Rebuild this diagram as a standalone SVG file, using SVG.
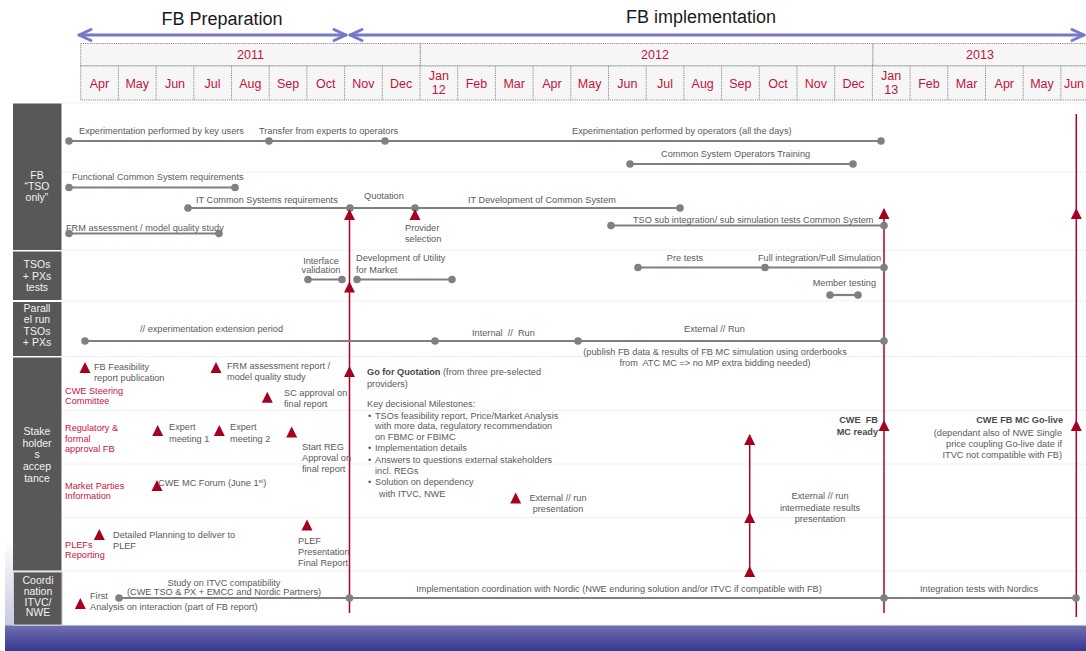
<svg xmlns="http://www.w3.org/2000/svg" xmlns:xlink="http://www.w3.org/1999/xlink" width="1086" height="651" viewBox="0 0 1086 651">
<style>
text{font-family:"Liberation Sans",Arial,sans-serif;}
.t{font-size:9.2px;fill:#5a5a5a;}
.c{font-size:9.2px;fill:#c8143e;}
.b{font-weight:bold;fill:#4a4a4a;}
.m{text-anchor:middle;}
.e{text-anchor:end;}
.pre{white-space:pre;}
.sec{font-size:10.5px;fill:#f2f2f2;text-anchor:middle;}
.mon{font-size:12.5px;fill:#c0143c;text-anchor:middle;}
.ttl{font-size:18px;fill:#1a1a1a;text-anchor:middle;}
.hc{fill:#f6f6f6;stroke:#8a8a8a;stroke-width:1;stroke-dasharray:1.2,1;}
.hl{stroke:#8a8a8a;stroke-width:1;stroke-dasharray:1.2,1;}
.sep{stroke:#e6e6e6;stroke-width:1;stroke-dasharray:1.5,1;}
.box{fill:#585858;}
.tl{stroke:#808080;stroke-width:2.2;fill:none;}
.dot{fill:#808080;}
.tri{fill:#a50022;}
.rl{stroke:#b0002a;stroke-width:1.5;fill:none;}
.ar{stroke:#7777cc;stroke-width:3;fill:none;stroke-linecap:round;stroke-linejoin:round;}
</style>
<defs>
<path id="tri" d="M0,0 L5.5,11 L-5.5,11 Z"/>
<circle id="dot" r="3.8"/>
<linearGradient id="band" x1="0" y1="0" x2="0" y2="1">
<stop offset="0" stop-color="#7070b0"/>
<stop offset="1" stop-color="#363690"/>
</linearGradient>
<linearGradient id="edge" x1="0" y1="0" x2="0" y2="1">
<stop offset="0" stop-color="#ffffff"/>
<stop offset="1" stop-color="#c8c8e2"/>
</linearGradient>
</defs>
<rect x="0" y="0" width="1086" height="651" fill="#ffffff"/>

<!-- titles and phase arrows -->
<g id="phase-prep">
<text class="ttl" x="222" y="25">FB Preparation</text>
<line class="ar" x1="79" y1="35" x2="346" y2="35"/>
<polyline class="ar" points="91,29.5 79,35 91,40.5"/>
<polyline class="ar" points="334,29.5 346,35 334,40.5"/>
</g>
<g id="phase-impl">
<text class="ttl" x="701" y="23">FB implementation</text>
<line class="ar" x1="350" y1="35" x2="1084" y2="35"/>
<polyline class="ar" points="362,29.5 350,35 362,40.5"/>
<polyline class="ar" points="1072,29.5 1084,35 1072,40.5"/>
</g>

<!-- header calendar -->
<g id="calendar">
<rect class="hc" x="80.7" y="43.5" width="339.6" height="22.5"/>
<rect class="hc" x="420.3" y="43.5" width="452.7" height="22.5"/>
<rect class="hc" x="873" y="43.5" width="214" height="22.5"/>
<rect class="hc" x="80.7" y="66" width="1006" height="34"/>
<text class="mon" x="250.5" y="59">2011</text>
<text class="mon" x="655" y="59">2012</text>
<text class="mon" x="980" y="59">2013</text>
<g class="hl">
<line x1="118.4" y1="66" x2="118.4" y2="100"/><line x1="156.1" y1="66" x2="156.1" y2="100"/>
<line x1="193.8" y1="66" x2="193.8" y2="100"/><line x1="231.5" y1="66" x2="231.5" y2="100"/>
<line x1="269.2" y1="66" x2="269.2" y2="100"/><line x1="306.9" y1="66" x2="306.9" y2="100"/>
<line x1="344.6" y1="66" x2="344.6" y2="100"/><line x1="382.3" y1="66" x2="382.3" y2="100"/>
<line x1="420" y1="66" x2="420" y2="100"/><line x1="457.7" y1="66" x2="457.7" y2="100"/>
<line x1="495.4" y1="66" x2="495.4" y2="100"/><line x1="533.1" y1="66" x2="533.1" y2="100"/>
<line x1="570.8" y1="66" x2="570.8" y2="100"/><line x1="608.5" y1="66" x2="608.5" y2="100"/>
<line x1="646.2" y1="66" x2="646.2" y2="100"/><line x1="683.9" y1="66" x2="683.9" y2="100"/>
<line x1="721.6" y1="66" x2="721.6" y2="100"/><line x1="759.3" y1="66" x2="759.3" y2="100"/>
<line x1="797" y1="66" x2="797" y2="100"/><line x1="834.7" y1="66" x2="834.7" y2="100"/>
<line x1="872.4" y1="66" x2="872.4" y2="100"/><line x1="910.1" y1="66" x2="910.1" y2="100"/>
<line x1="947.8" y1="66" x2="947.8" y2="100"/><line x1="985.5" y1="66" x2="985.5" y2="100"/>
<line x1="1023.2" y1="66" x2="1023.2" y2="100"/><line x1="1060.9" y1="66" x2="1060.9" y2="100"/>
</g>
<text class="mon" x="99.5" y="88">Apr</text>
<text class="mon" x="137.2" y="88">May</text>
<text class="mon" x="175" y="88">Jun</text>
<text class="mon" x="212.6" y="88">Jul</text>
<text class="mon" x="250.3" y="88">Aug</text>
<text class="mon" x="288" y="88">Sep</text>
<text class="mon" x="325.7" y="88">Oct</text>
<text class="mon" x="363.4" y="88">Nov</text>
<text class="mon" x="401.1" y="88">Dec</text>
<text class="mon" x="438.8" y="80">Jan</text>
<text class="mon" x="438.8" y="94">12</text>
<text class="mon" x="476.5" y="88">Feb</text>
<text class="mon" x="514.2" y="88">Mar</text>
<text class="mon" x="551.9" y="88">Apr</text>
<text class="mon" x="589.6" y="88">May</text>
<text class="mon" x="627.3" y="88">Jun</text>
<text class="mon" x="665" y="88">Jul</text>
<text class="mon" x="702.7" y="88">Aug</text>
<text class="mon" x="740.4" y="88">Sep</text>
<text class="mon" x="778.1" y="88">Oct</text>
<text class="mon" x="815.8" y="88">Nov</text>
<text class="mon" x="853.5" y="88">Dec</text>
<text class="mon" x="891.2" y="80">Jan</text>
<text class="mon" x="891.2" y="94">13</text>
<text class="mon" x="928.9" y="88">Feb</text>
<text class="mon" x="966.6" y="88">Mar</text>
<text class="mon" x="1004.3" y="88">Apr</text>
<text class="mon" x="1042" y="88">May</text>
<text class="mon" x="1074" y="88">Jun</text>
</g>

<!-- row separators -->
<g id="grid">
<line class="sep" x1="62" y1="103" x2="1086" y2="103"/>
<line class="sep" x1="62" y1="172" x2="1086" y2="172"/>
<line class="sep" x1="62" y1="250" x2="1086" y2="250"/>
<line class="sep" x1="62" y1="301" x2="1086" y2="301"/>
<line class="sep" x1="62" y1="356.5" x2="1086" y2="356.5"/>
<line class="sep" x1="62" y1="410.5" x2="1086" y2="410.5"/>
<line class="sep" x1="62" y1="464" x2="1086" y2="464"/>
<line class="sep" x1="62" y1="517.5" x2="1086" y2="517.5"/>
<line class="sep" x1="62" y1="571" x2="1086" y2="571"/>
<line class="sep" x1="62" y1="625" x2="1086" y2="625"/>
</g>

<!-- bottom band -->
<rect x="5" y="540" width="8" height="86" fill="url(#edge)"/>
<rect x="5" y="625.5" width="1081" height="25.5" fill="url(#band)"/>

<!-- section labels -->
<g id="sec-fb">
<rect class="box" x="13" y="103.5" width="48.5" height="146.5"/>
<text class="sec" x="37" y="179">FB</text>
<text class="sec" x="37" y="190">“TSO</text>
<text class="sec" x="37" y="201">only”</text>
</g>
<g id="sec-tests">
<rect class="box" x="13" y="251.5" width="48.5" height="48.5"/>
<text class="sec" x="37" y="268">TSOs</text>
<text class="sec" x="37" y="279.5">+ PXs</text>
<text class="sec" x="37" y="291">tests</text>
</g>
<g id="sec-parallel">
<rect class="box" x="13" y="302" width="48.5" height="54"/>
<text class="sec" x="37" y="312">Parall</text>
<text class="sec" x="37" y="323">el run</text>
<text class="sec" x="37" y="334.5">TSOs</text>
<text class="sec" x="37" y="346">+ PXs</text>
</g>
<g id="sec-stake">
<rect class="box" x="13" y="357.5" width="48.5" height="213"/>
<text class="sec" x="37" y="435">Stake</text>
<text class="sec" x="37" y="447">holder</text>
<text class="sec" x="37" y="458">s</text>
<text class="sec" x="37" y="470">accep</text>
<text class="sec" x="37" y="481.5">tance</text>
</g>
<g id="sec-coord">
<rect class="box" x="13.5" y="572" width="48.5" height="53" stroke="#cfcfcf" stroke-width="1"/>
<text class="sec" x="38" y="584">Coordi</text>
<text class="sec" x="38" y="595">nation</text>
<text class="sec" x="38" y="606">ITVC/</text>
<text class="sec" x="38" y="616">NWE</text>
</g>

<!-- connectors: red milestone lines -->
<g id="connectors">
<line class="rl" x1="349.5" y1="210" x2="349.5" y2="613" stroke="#c0304a"/>
<line class="rl" x1="884" y1="209" x2="884" y2="613"/>
<line class="rl" x1="1076.3" y1="114" x2="1076.3" y2="617"/>
<line class="rl" x1="749.7" y1="435" x2="749.7" y2="577"/>
</g>

<!-- timeline bars -->
<g id="exp-key-users">
<line class="tl" x1="69" y1="141" x2="881" y2="141"/>
<use href="#dot" class="dot" x="69" y="141"/><use href="#dot" class="dot" x="269" y="141"/>
<use href="#dot" class="dot" x="385" y="141"/><use href="#dot" class="dot" x="881" y="141"/>
<text class="t" x="79" y="134">Experimentation performed by key users</text>
<text class="t" x="259" y="134">Transfer from experts to operators</text>
<text class="t" x="572" y="134">Experimentation performed by operators (all the days)</text>
</g>
<g id="operators-training">
<line class="tl" x1="630" y1="164" x2="853" y2="164"/>
<use href="#dot" class="dot" x="630" y="164"/><use href="#dot" class="dot" x="853" y="164"/>
<text class="t" x="661" y="157">Common System Operators Training</text>
</g>
<g id="functional-req">
<line class="tl" x1="69" y1="187.5" x2="235" y2="187.5"/>
<use href="#dot" class="dot" x="69" y="187.5"/><use href="#dot" class="dot" x="235" y="187.5"/>
<text class="t" x="72" y="180">Functional Common System requirements</text>
</g>
<g id="it-common">
<line class="tl" x1="188" y1="208" x2="680" y2="208"/>
<use href="#dot" class="dot" x="188" y="208"/><use href="#dot" class="dot" x="350" y="208"/>
<use href="#dot" class="dot" x="415" y="208"/><use href="#dot" class="dot" x="680" y="208"/>
<text class="t" x="196" y="203">IT Common Systems requirements</text>
<text class="t" x="364" y="199">Quotation</text>
<text class="t" x="468" y="203">IT Development of Common System</text>
<text class="t" x="405" y="231">Provider</text>
<text class="t" x="405" y="242">selection</text>
</g>
<g id="tso-sub-integration">
<line class="tl" x1="611" y1="225.5" x2="884" y2="225.5"/>
<use href="#dot" class="dot" x="611" y="225.5"/><use href="#dot" class="dot" x="884" y="225.5"/>
<text class="t" x="633" y="223">TSO sub integration/ sub simulation tests Common System</text>
</g>
<g id="frm-study">
<text class="t" x="66" y="231">FRM assessment / model quality study</text>
<line class="tl" x1="69" y1="233.5" x2="219" y2="233.5"/>
<use href="#dot" class="dot" x="69" y="233.5"/><use href="#dot" class="dot" x="219" y="233.5"/>
</g>
<g id="interface-validation">
<line class="tl" x1="308" y1="279.5" x2="342" y2="279.5"/>
<use href="#dot" class="dot" x="308" y="279.5"/><use href="#dot" class="dot" x="342" y="279.5"/>
<text class="t m" x="321" y="264">Interface</text>
<text class="t m" x="321" y="273">validation</text>
</g>
<g id="dev-utility">
<line class="tl" x1="357" y1="279.5" x2="452" y2="279.5"/>
<use href="#dot" class="dot" x="357" y="279.5"/><use href="#dot" class="dot" x="452" y="279.5"/>
<text class="t" x="356" y="261">Development of Utility</text>
<text class="t" x="356" y="273">for Market</text>
</g>
<g id="pre-tests">
<line class="tl" x1="638" y1="267.5" x2="884" y2="267.5"/>
<use href="#dot" class="dot" x="638" y="267.5"/><use href="#dot" class="dot" x="765" y="267.5"/>
<use href="#dot" class="dot" x="884" y="267.5"/>
<text class="t m" x="685" y="261">Pre tests</text>
<text class="t e" x="881" y="261">Full integration/Full Simulation</text>
</g>
<g id="member-testing">
<line class="tl" x1="830" y1="295" x2="858" y2="295"/>
<use href="#dot" class="dot" x="830" y="295"/><use href="#dot" class="dot" x="858" y="295"/>
<text class="t e" x="876" y="286">Member testing</text>
</g>
<g id="parallel-run">
<line class="tl" x1="85" y1="341" x2="884" y2="341"/>
<use href="#dot" class="dot" x="85" y="341"/><use href="#dot" class="dot" x="435" y="341"/>
<use href="#dot" class="dot" x="578" y="341"/><use href="#dot" class="dot" x="884" y="341"/>
<text class="t" x="140" y="332">// experimentation extension period</text>
<text class="t pre" x="472" y="336">Internal  //  Run</text>
<text class="t" x="684" y="332">External // Run</text>
<text class="t m" x="715" y="355">(publish FB data &amp; results of FB MC simulation using orderbooks</text>
<text class="t m pre" x="715" y="366">from  ATC MC =&gt; no MP extra bidding needed)</text>
</g>
<g id="coordination">
<line class="tl" x1="119" y1="598" x2="1076" y2="598"/>
<use href="#dot" class="dot" x="119" y="598"/><use href="#dot" class="dot" x="349.5" y="598"/>
<use href="#dot" class="dot" x="884" y="598"/><use href="#dot" class="dot" x="1076" y="598"/>
<text class="t m" x="224" y="586">Study on ITVC compatibility</text>
<text class="t m" x="224" y="595">(CWE TSO &amp; PX + EMCC and Nordic Partners)</text>
<text class="t" x="90" y="599">First</text>
<text class="t" x="90" y="610">Analysis on interaction (part of FB report)</text>
<text class="t m" x="619" y="592">Implementation coordination with Nordic (NWE enduring solution and/or ITVC if compatible with FB)</text>
<text class="t m" x="979" y="592">Integration tests with Nordics</text>
</g>

<!-- milestone arrowheads on connectors -->
<g id="arrowheads" class="tri">
<use href="#tri" x="349.5" y="209"/>
<use href="#tri" x="349.5" y="281.5"/>
<use href="#tri" x="349.5" y="366"/>
<use href="#tri" x="884" y="208"/>
<use href="#tri" x="884" y="420"/>
<use href="#tri" x="1076.3" y="208"/>
<use href="#tri" x="1076.3" y="420"/>
<use href="#tri" x="749.7" y="434"/>
<use href="#tri" x="749.7" y="512"/>
<use href="#tri" x="749.7" y="566"/>
</g>

<!-- stakeholder milestones -->
<g id="provider-selection"><use href="#tri" class="tri" x="415" y="209"/></g>
<g id="fb-feasibility">
<use href="#tri" class="tri" x="85" y="362"/>
<text class="t" x="94" y="370">FB Feasibility</text>
<text class="t" x="94" y="381">report publication</text>
</g>
<g id="cwe-steering">
<text class="c" x="65" y="394">CWE Steering</text>
<text class="c" x="65" y="404">Committee</text>
</g>
<g id="frm-report">
<use href="#tri" class="tri" x="216" y="362"/>
<text class="t" x="227" y="369">FRM assessment report /</text>
<text class="t" x="227" y="380">model quality study</text>
</g>
<g id="sc-approval">
<use href="#tri" class="tri" x="267.3" y="391.7"/>
<text class="t" x="284" y="396">SC approval on</text>
<text class="t" x="284" y="407">final report</text>
</g>
<g id="go-quotation">
<text class="t" x="367" y="375"><tspan class="b">Go for Quotation</tspan> (from three pre-selected</text>
<text class="t" x="367" y="387">providers)</text>
<text class="t" x="367" y="407">Key decisional Milestones:</text>
<text class="t" x="368" y="419">•</text>
<text class="t" x="375" y="419">TSOs feasibility report, Price/Market Analysis</text>
<text class="t" x="375" y="429">with more data, regulatory recommendation</text>
<text class="t" x="375" y="440">on FBMC or FBIMC</text>
<text class="t" x="368" y="451">•</text>
<text class="t" x="375" y="451">Implementation details</text>
<text class="t" x="368" y="463">•</text>
<text class="t" x="375" y="463">Answers to questions external stakeholders</text>
<text class="t" x="375" y="474">incl. REGs</text>
<text class="t" x="368" y="485">•</text>
<text class="t" x="375" y="485">Solution on dependency</text>
<text class="t" x="379" y="497">with ITVC, NWE</text>
</g>
<g id="regulatory">
<text class="c" x="65" y="431">Regulatory &amp;</text>
<text class="c" x="65" y="442">formal</text>
<text class="c" x="65" y="452">approval FB</text>
</g>
<g id="expert-1">
<use href="#tri" class="tri" x="157.7" y="425"/>
<text class="t" x="169" y="430">Expert</text>
<text class="t" x="169" y="442">meeting 1</text>
</g>
<g id="expert-2">
<use href="#tri" class="tri" x="219.3" y="425"/>
<text class="t" x="230" y="430">Expert</text>
<text class="t" x="230" y="442">meeting 2</text>
</g>
<g id="start-reg">
<use href="#tri" class="tri" x="291.7" y="426.5"/>
<text class="t" x="302" y="450">Start REG</text>
<text class="t" x="302" y="461">Approval on</text>
<text class="t" x="302" y="472">final report</text>
</g>
<g id="mc-ready">
<text class="t b e pre" x="878" y="423">CWE  FB</text>
<text class="t b e" x="878" y="435">MC ready</text>
</g>
<g id="go-live">
<text class="t b e" x="1063" y="423">CWE FB MC Go-live</text>
<text class="t e" x="1062" y="436">(dependant also of NWE Single</text>
<text class="t e" x="1062" y="447">price coupling Go-live date if</text>
<text class="t e" x="1062" y="458">ITVC not compatible with FB)</text>
</g>
<g id="market-parties">
<text class="c" x="65" y="489">Market Parties</text>
<text class="c" x="65" y="499">Information</text>
</g>
<g id="mc-forum">
<use href="#tri" class="tri" x="157" y="480"/>
<text class="t" x="158" y="486">CWE MC Forum (June 1<tspan font-size="6" dy="-3">st</tspan><tspan dy="3">)</tspan></text>
</g>
<g id="ext-run-presentation">
<use href="#tri" class="tri" x="515.7" y="492.5"/>
<text class="t m" x="558" y="501">External // run</text>
<text class="t m" x="558" y="512">presentation</text>
</g>
<g id="ext-run-intermediate">
<text class="t m" x="820" y="499">External // run</text>
<text class="t m" x="820" y="511">intermediate results</text>
<text class="t m" x="820" y="522">presentation</text>
</g>
<g id="detailed-planning">
<use href="#tri" class="tri" x="99.3" y="529"/>
<text class="t" x="113" y="538">Detailed Planning to deliver to</text>
<text class="t" x="113" y="549">PLEF</text>
</g>
<g id="plefs">
<text class="c" x="65" y="548">PLEFs</text>
<text class="c" x="65" y="558">Reporting</text>
</g>
<g id="plef-presentation">
<use href="#tri" class="tri" x="307" y="519.5"/>
<text class="t" x="298" y="544">PLEF</text>
<text class="t" x="298" y="555">Presentation</text>
<text class="t" x="298" y="566">Final Report</text>
</g>
<g id="first-analysis">
<use href="#tri" class="tri" x="80.3" y="598"/>
</g>
</svg>
